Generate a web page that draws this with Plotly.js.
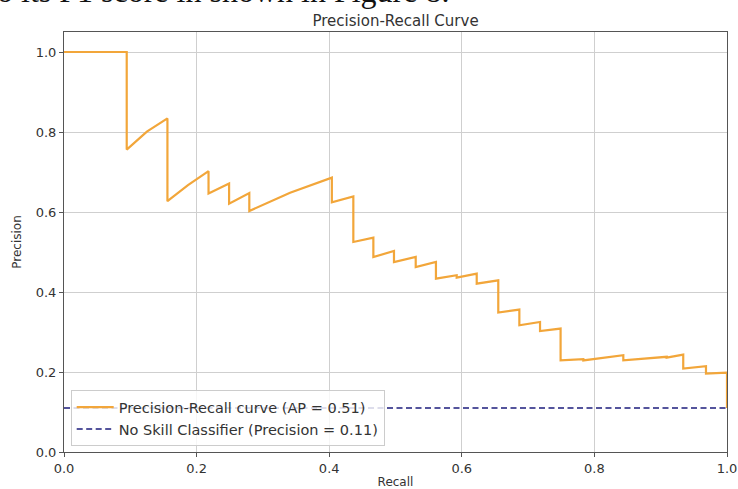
<!DOCTYPE html>
<html>
<head>
<meta charset="utf-8">
<script src="https://cdn.plot.ly/plotly-3.0.1.min.js"></script>
<style>
  html, body { margin: 0; padding: 0; background: #fff; overflow: hidden; }
  #wrap { position: relative; width: 738px; height: 489px; overflow: hidden; }
  #chart { position: absolute; left: 0; top: 0; width: 738px; height: 489px; }
  #caption { position: absolute; left: -3px; top: -21px; font-family: "Liberation Serif", serif; font-size: 32px; line-height: 24px; white-space: nowrap; color: #111; z-index: 5; }
</style>
</head>
<body>
<div id="wrap">
  <div id="chart"></div>
  <div id="caption">o its F1 score in shown in Figure 8.</div>
</div>
<script>
// Precision-Recall curve values
const recall = [0, 0.0946, 0.0946, 0.125, 0.156, 0.156, 0.187, 0.218, 0.218, 0.249, 0.249,
  0.2795, 0.2795, 0.341, 0.404, 0.404, 0.4364, 0.4364, 0.4666, 0.4666, 0.4977, 0.4977,
  0.5305, 0.5305, 0.561, 0.561, 0.5923, 0.5923, 0.6225, 0.6225, 0.655, 0.655, 0.6868, 0.6868,
  0.718, 0.718, 0.749, 0.749, 0.7833, 0.7833, 0.8436, 0.8436, 0.909, 0.909, 0.934, 0.934,
  0.9683, 0.9683, 1.0, 1.0];
const precision = [1.0, 1.0, 0.756, 0.801, 0.834, 0.627, 0.667, 0.702, 0.646, 0.671, 0.621,
  0.6475, 0.6025, 0.648, 0.686, 0.624, 0.639, 0.525, 0.536, 0.4875, 0.5025, 0.475,
  0.4875, 0.4625, 0.475, 0.4335, 0.442, 0.436, 0.446, 0.421, 0.429, 0.3485, 0.356, 0.3168,
  0.325, 0.3025, 0.3085, 0.2293, 0.232, 0.229, 0.2418, 0.2293, 0.238, 0.236, 0.2435, 0.2085,
  0.2143, 0.196, 0.1985, 0.11];
const noSkillX = [0, 1];
const noSkillY = [0.11, 0.11];
const prLabel = "Precision-Recall curve (AP = 0.51)";
const nsLabel = "No Skill Classifier (Precision = 0.11)";
const tickVals = [0, 0.2, 0.4, 0.6, 0.8, 1.0];
const tickText = ["0.0", "0.2", "0.4", "0.6", "0.8", "1.0"];

const font = "DejaVu Sans, sans-serif";
const traces = [
  { x: recall, y: precision, mode: "lines", name: prLabel,
    line: { color: "#f2a63a", width: 2.2 } },
  { x: noSkillX, y: noSkillY, mode: "lines", name: nsLabel,
    line: { color: "#1c1c7c", width: 1.6, dash: "6px,3.5px" } }
];
const axisCommon = {
  showgrid: true, gridcolor: "#cfcfcf", gridwidth: 1,
  showline: true, linecolor: "#555", linewidth: 1, mirror: true,
  ticks: "outside", ticklen: 4, tickcolor: "#555", tickwidth: 1,
  tickvals: tickVals, ticktext: tickText,
  tickfont: { family: font, size: 13, color: "#333" },
  zeroline: false, automargin: false
};
const layout = {
  width: 738, height: 489,
  margin: { l: 64, r: 11, t: 32, b: 37 },
  paper_bgcolor: "#fff", plot_bgcolor: "#fff",
  font: { family: font, color: "#333" },
  title: { text: "Precision-Recall Curve", font: { family: font, size: 15, color: "#333" },
           x: 0.536, xanchor: "center", y: 0.958, yanchor: "middle" },
  xaxis: Object.assign({}, axisCommon, { range: [0, 1],
    title: { text: "Recall", font: { family: font, size: 12, color: "#333" }, standoff: 4 } }),
  yaxis: Object.assign({}, axisCommon, { range: [0, 1.05],
    title: { text: "Precision", font: { family: font, size: 12, color: "#333" }, standoff: 11 } }),
  showlegend: true,
  legend: { x: 0.0101, y: 0.0136, xanchor: "left", yanchor: "bottom",
    bgcolor: "rgba(255,255,255,0.8)", bordercolor: "#cccccc", borderwidth: 1,
    itemwidth: 37,
    font: { family: font, size: 14.5, color: "#333" }, tracegroupgap: 0 }
};
Plotly.newPlot("chart", traces, layout, { displayModeBar: false, staticPlot: true });
</script>
</body>
</html>
